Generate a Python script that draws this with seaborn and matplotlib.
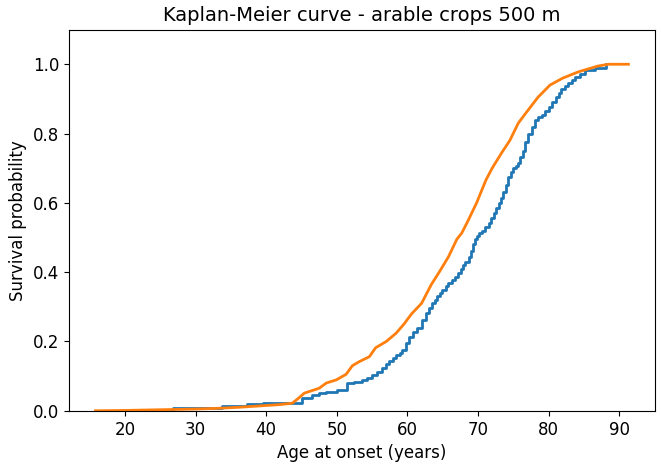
import seaborn as sns
import matplotlib.pyplot as plt
import pandas as pd

# Cumulative probability
blue_age = [16.0, 24.9, 26.8, 33.7, 37.3, 39.6, 45.1, 46.5, 47.5, 48.5, 50.0,
            51.5, 52.5, 53.6, 54.3, 55.0, 55.7, 56.4, 56.9, 57.4, 57.9, 58.4,
            58.9, 59.3, 59.8, 60.2, 60.8, 61.3, 62.0, 62.6, 63.1, 63.5, 63.9,
            64.2, 64.6, 64.9, 65.4, 65.8, 66.3, 66.8, 67.2, 67.6, 67.9, 68.2,
            68.7, 69.0, 69.3, 69.6, 69.8, 70.1, 70.5, 71.0, 71.5, 71.9, 72.2,
            72.6, 72.9, 73.3, 73.6, 74.0, 74.3, 74.7, 75.0, 75.4, 75.7, 76.0,
            76.3, 76.7, 77.1, 77.6, 78.1, 78.5, 79.0, 79.5, 80.0, 80.5, 81.1,
            81.5, 81.8, 82.3, 82.8, 83.3, 83.8, 84.5, 85.2, 86.5, 88.1]
blue_prob = [0.0, 0.003, 0.008, 0.013, 0.019, 0.023, 0.036, 0.045, 0.05, 0.055, 0.06,
             0.079, 0.084, 0.089, 0.096, 0.103, 0.113, 0.123, 0.134, 0.145, 0.152, 0.16,
             0.167, 0.175, 0.195, 0.213, 0.226, 0.24, 0.262, 0.282, 0.297, 0.31, 0.32,
             0.33, 0.34, 0.348, 0.36, 0.37, 0.378, 0.386, 0.398, 0.41, 0.42, 0.43,
             0.444, 0.462, 0.48, 0.495, 0.505, 0.512, 0.52, 0.531, 0.541, 0.556, 0.57,
             0.585, 0.599, 0.615, 0.63, 0.652, 0.675, 0.688, 0.70, 0.707, 0.714, 0.732,
             0.75, 0.775, 0.80, 0.82, 0.839, 0.847, 0.855, 0.866, 0.877, 0.89, 0.905,
             0.918, 0.93, 0.938, 0.945, 0.954, 0.963, 0.973, 0.983, 0.99, 1.0]

orange_age = [15.8, 20.0, 25.0, 30.0, 33.0, 36.0, 39.0, 42.0, 43.7, 44.5,
              45.4, 47.5, 48.5, 49.9, 51.3, 52.2, 53.1, 54.6, 55.5, 57.0,
              58.4, 59.5, 60.6, 62.0, 63.4, 64.5, 65.8, 67.0, 67.7, 68.5,
              69.8, 71.1, 72.0, 73.3, 74.5, 75.7, 76.8, 78.5, 80.2, 82.0,
              84.2, 87.0, 88.5, 91.3]
orange_prob = [0.0, 0.001, 0.003, 0.005, 0.007, 0.010, 0.014, 0.018, 0.022, 0.035,
               0.051, 0.065, 0.08, 0.089, 0.105, 0.13, 0.141, 0.156, 0.182, 0.20,
               0.224, 0.25, 0.28, 0.31, 0.365, 0.40, 0.444, 0.495, 0.513, 0.545,
               0.60, 0.665, 0.70, 0.743, 0.78, 0.83, 0.86, 0.905, 0.94, 0.96,
               0.978, 0.995, 1.0, 1.0]

blue_df = pd.DataFrame({"age": blue_age, "prob": blue_prob})
orange_df = pd.DataFrame({"age": orange_age, "prob": orange_prob})

fig, ax = plt.subplots(figsize=(6.61, 4.70), dpi=100)
fig.subplots_adjust(left=0.104, right=0.991, top=0.937, bottom=0.126)

sns.lineplot(data=blue_df, x="age", y="prob", ax=ax, color="#1f77b4",
             linewidth=2, drawstyle="steps-post")
sns.lineplot(data=orange_df, x="age", y="prob", ax=ax, color="#ff7f0e",
             linewidth=2)

ax.set_ylim(0, 1.1)
ax.set_title("Kaplan-Meier curve - arable crops 500 m", fontsize=14)
ax.set_xlabel("Age at onset (years)", fontsize=12)
ax.set_ylabel("Survival probability", fontsize=12)
ax.tick_params(labelsize=12)

plt.savefig("out.png", dpi=100)
